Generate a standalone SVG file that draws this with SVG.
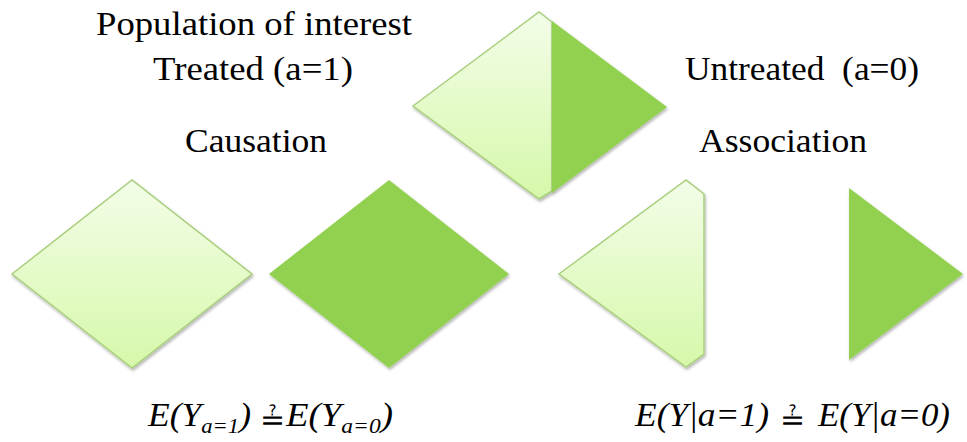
<svg xmlns="http://www.w3.org/2000/svg" width="967" height="442" viewBox="0 0 967 442">
<defs>
<linearGradient id="lg" x1="0" y1="0" x2="0" y2="1">
<stop offset="0" stop-color="#f3fde8"/>
<stop offset="1" stop-color="#d6f8aa"/>
</linearGradient>
<filter id="sh" x="-10%" y="-10%" width="120%" height="125%">
<feDropShadow dx="1" dy="2" stdDeviation="1.5" flood-color="#000" flood-opacity="0.3"/>
</filter>
<style>
.t{font-size:33px;text-anchor:middle}
.m{font-size:33px;font-style:italic}
.s{font-size:21px}
.light{fill:url(#lg);stroke:#a8cf7c;stroke-width:1.5;filter:url(#sh)}
.dark{fill:#92d050;filter:url(#sh)}
</style>
</defs>
<g id="population">
<polygon class="light" points="413,106 539,12 552,22 552,191 539,199"/>
<polygon class="dark" points="552,21 667,107 552,193"/>
</g>
<g id="causation-treated"><polygon class="light" points="12,274 132,180 252,274 132,368"/></g>
<g id="causation-untreated"><polygon class="dark" points="269,274 389,180 509,274 389,368"/></g>
<g id="association-treated"><polygon class="light" points="559,274 686,180 704,194 704,354 686,367"/></g>
<g id="association-untreated"><polygon class="dark" points="849,188 963,274 849,360"/></g>
<g id="connectors"></g>
<g id="labels" font-family="Liberation Serif, Times New Roman, DejaVu Serif, serif" fill="#000">
<text class="t" x="254" y="35" textLength="316" lengthAdjust="spacingAndGlyphs">Population of interest</text>
<text class="t" x="253" y="80" textLength="200" lengthAdjust="spacingAndGlyphs">Treated (a=1)</text>
<text class="t" x="802" y="80" xml:space="preserve" textLength="234" lengthAdjust="spacingAndGlyphs">Untreated  (a=0)</text>
<text class="t" x="256" y="152" textLength="142" lengthAdjust="spacingAndGlyphs">Causation</text>
<text class="t" x="783" y="152" textLength="168" lengthAdjust="spacingAndGlyphs">Association</text>
<text class="m" x="148" y="426" textLength="103" lengthAdjust="spacingAndGlyphs">E(Y<tspan class="s" dy="7">a=1</tspan><tspan dy="-7">)</tspan></text>
<text x="272" y="430" font-size="30" text-anchor="middle">≟</text>
<text class="m" x="286" y="426" textLength="107" lengthAdjust="spacingAndGlyphs">E(Y<tspan class="s" dy="7">a=0</tspan><tspan dy="-7">)</tspan></text>
<text class="m" x="635" y="426" textLength="134" lengthAdjust="spacingAndGlyphs">E(Y|a=1)</text>
<text x="792" y="430" font-size="30" text-anchor="middle">≟</text>
<text class="m" x="818" y="426" textLength="132" lengthAdjust="spacingAndGlyphs">E(Y|a=0)</text>
</g>
</svg>
